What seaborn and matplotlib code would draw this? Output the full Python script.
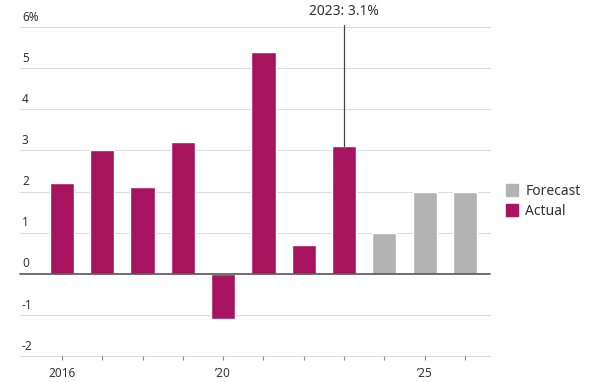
import matplotlib
matplotlib.use("Agg")
import matplotlib.pyplot as plt
import seaborn as sns
import pandas as pd
from matplotlib.patches import Patch
from matplotlib.transforms import blended_transform_factory

years = ["2016", "2017", "2018", "2019", "2020", "2021", "2022", "2023", "2024", "2025", "2026"]
values = [2.2, 3.0, 2.1, 3.2, -1.1, 5.4, 0.7, 3.1, 1.0, 2.0, 2.0]
kinds = ["Actual"] * 8 + ["Forecast"] * 3
xtick_labels = ["2016", "", "", "", "\u201920", "", "", "", "", "\u201925", ""]
ytick_values = [-2, -1, 0, 1, 2, 3, 4, 5, 6]
ytick_labels = ["-2", "-1", "0", "1", "2", "3", "4", "5", "6%"]
annot_year = "2023"
annot_text = "2023: 3.1%"

colors = {"Actual": "#a8135f", "Forecast": "#b3b3b3"}
text_color = "#333333"

df = pd.DataFrame({"year": years, "value": values, "kind": kinds})

sns.set_style("white")
plt.rcParams["font.family"] = ["Noto Sans", "DejaVu Sans"]

fig = plt.figure(figsize=(5.98, 3.82), dpi=100)
ax = fig.add_axes([20 / 598, (382 - 356) / 382, 470 / 598, (356 - 27) / 382])

sns.barplot(data=df, x="year", y="value", hue="kind", order=years,
            hue_order=["Forecast", "Actual"], palette=colors, dodge=False,
            width=0.6, ax=ax, legend=False, saturation=1)

ax.set_ylim(-2, 6)
ax.set_xlim(-1.04, 10.62)
for s in ax.spines.values():
    s.set_visible(False)

# grid lines
for v in ytick_values:
    if v == 0:
        ax.axhline(v, color="#555555", lw=1.2, zorder=3, clip_on=False)
    else:
        ax.axhline(v, color="#dddddd", lw=0.8, zorder=0, clip_on=False)

ax.set_yticks([])
trans = blended_transform_factory(ax.transAxes, ax.transData)
for v, lab in zip(ytick_values, ytick_labels):
    ax.text(0.004, v + 0.08, lab, transform=trans, ha="left", va="bottom",
            fontsize=8.5, color=text_color)

ax.set_xticks(range(len(years)))
ax.set_xticklabels(xtick_labels, fontsize=8.5, color=text_color)
ax.tick_params(axis="x", bottom=True, length=3, width=0.8, color="#888888",
               pad=5, direction="out")
ax.set_xlabel("")
ax.set_ylabel("")

# annotation
i = years.index(annot_year)
ax.plot([i, i], [values[i], 6.05], color="#444444", lw=0.9, clip_on=False, zorder=4)
ax.text(i, 6.2, annot_text, ha="center", va="bottom", fontsize=10,
        color=text_color, clip_on=False)

handles = [Patch(color=colors["Forecast"], label="Forecast"),
           Patch(color=colors["Actual"], label="Actual")]
fig.legend(handles=handles, loc="upper left", bbox_to_anchor=(496 / 598, 1 - 174 / 382),
           frameon=False, fontsize=10, handlelength=0.9, handleheight=0.9,
           handletextpad=0.5, labelspacing=0.35, labelcolor=text_color, borderpad=0.2)

fig.savefig("out.png", dpi=100)
